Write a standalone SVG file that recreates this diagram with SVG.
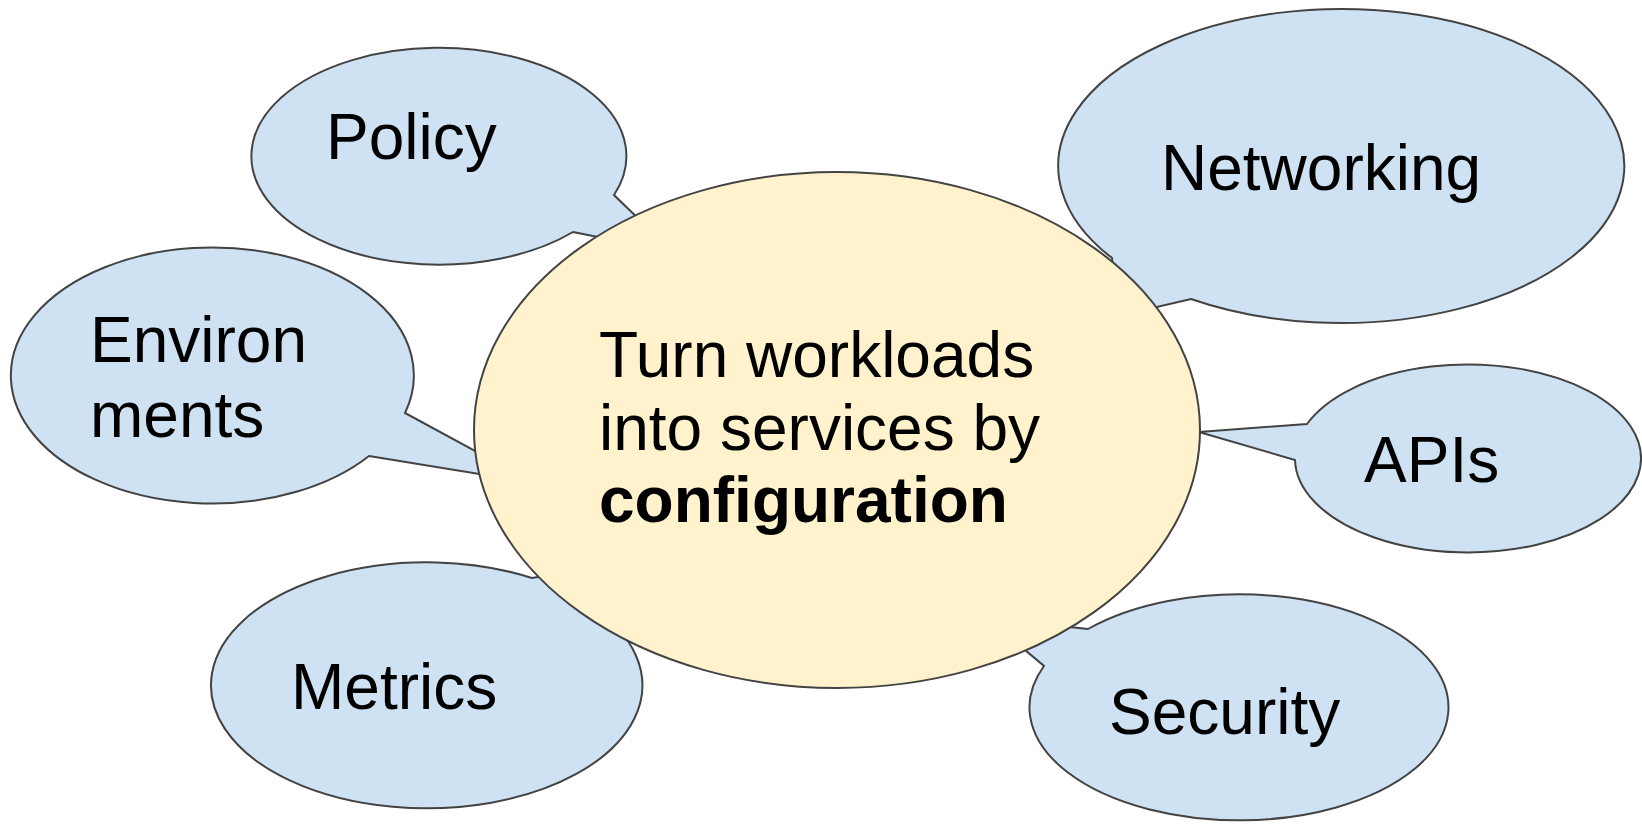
<svg xmlns="http://www.w3.org/2000/svg" width="1642" height="824" viewBox="0 0 1642 824">
<style>
.bub{fill:#cfe2f3;stroke:#434343;stroke-width:2;stroke-linejoin:miter}
.core{fill:#fff2cc;stroke:#434343;stroke-width:2}
.t{font-family:"Liberation Sans",Arial,sans-serif;font-size:64px;fill:#000}
.b{font-weight:bold}
</style>
<rect width="1642" height="824" fill="#ffffff"/>
<g id="connectors"></g>
<g id="policy">
<path class="bub" d="M573,232 L673,252 L614,195 A187.5,108.4 0 1 0 573,232 Z"/>
<text class="t" x="326" y="159">Policy</text>
</g>
<g id="environments">
<path class="bub" d="M369,456 L534,483 L405,413 A201.5,128 0 1 0 369,456 Z"/>
<text class="t" x="90" y="362">Environ</text>
<text class="t" x="90" y="437">ments</text>
</g>
<g id="metrics">
<path class="bub" d="M590,605 L640,560 L532,578 A215.7,123 0 1 0 590,605 Z"/>
<text class="t" x="291" y="709">Metrics</text>
</g>
<g id="networking">
<path class="bub" d="M1112,258 L1118,316 L1191,299 A283,157 0 1 0 1112,258 Z"/>
<text class="t" x="1161" y="190">Networking</text>
</g>
<g id="apis">
<path class="bub" d="M1307,424 L1199,432 L1295,460 A173,94 0 1 0 1307,424 Z"/>
<text class="t" x="1364" y="482">APIs</text>
</g>
<g id="security">
<path class="bub" d="M1088,629 L987,618 L1044,666 A209.5,113 0 1 0 1088,629 Z"/>
<text class="t" x="1109" y="734">Security</text>
</g>
<g id="core">
<ellipse class="core" cx="837" cy="430" rx="363" ry="258"/>
<text class="t" x="599" y="377">Turn workloads</text>
<text class="t" x="599" y="450">into services by</text>
<text class="t b" x="599" y="522">configuration</text>
</g>
</svg>
